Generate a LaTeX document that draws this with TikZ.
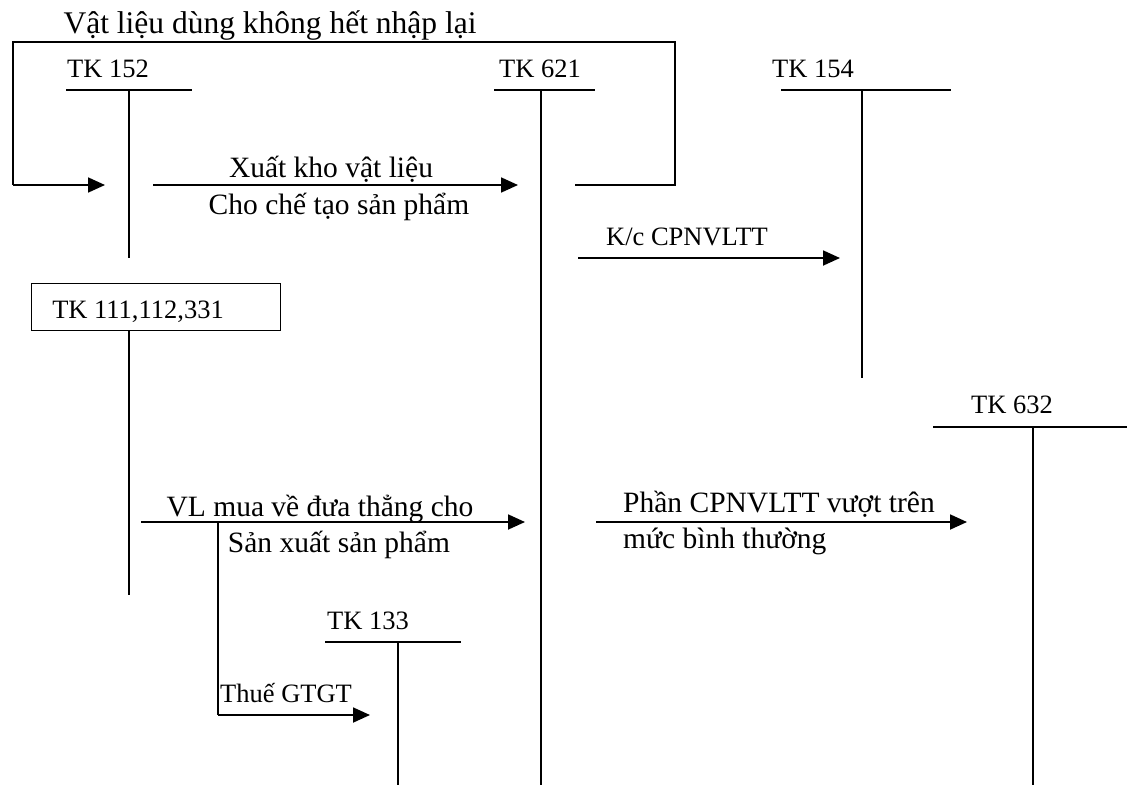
\documentclass[tikz,border=0pt]{standalone}
\usepackage{fontspec}
\setmainfont{Liberation Serif}
\usetikzlibrary{arrows.meta}
\begin{document}
\begin{tikzpicture}[x=1pt,y=-1pt,
  acct/.style={line width=1.3pt},
  flow/.style={line width=1.8pt,-{Triangle[length=17pt,width=15pt]}},
  plain/.style={line width=1.5pt},
  big/.style={font=\fontsize{31.5}{34}\selectfont,anchor=base,inner sep=0pt},
  mid/.style={font=\fontsize{29.5}{32}\selectfont,anchor=base,inner sep=0pt},
  small/.style={font=\fontsize{26.5}{29}\selectfont,anchor=base,inner sep=0pt}]
\useasboundingbox (0,0) rectangle (1127,785);
% account labels
\node[small] (l152) at (108,77) {TK 152};
\node[small] (l621) at (540,77) {TK 621};
\node[small] (l154) at (813,77) {TK 154};
\node[small] (l632) at (1012,413) {TK 632};
\node[small] (l133) at (368,629) {TK 133};
% T accounts
\coordinate (a1) at (66,90); \coordinate (a2) at (192,90);
\coordinate (a3) at (129,90); \coordinate (a4) at (129,258);
\draw[acct] (a1) -- (a2) (a3) -- (a4);
\coordinate (b1) at (494,90); \coordinate (b2) at (595,90);
\coordinate (b3) at (541,90); \coordinate (b4) at (541,785);
\draw[acct] (b1) -- (b2) (b3) -- (b4);
\coordinate (c1) at (781,90); \coordinate (c2) at (951,90);
\coordinate (c3) at (862,90); \coordinate (c4) at (862,378);
\draw[acct] (c1) -- (c2) (c3) -- (c4);
\coordinate (d1) at (933,427); \coordinate (d2) at (1127,427);
\coordinate (d3) at (1033,427); \coordinate (d4) at (1033,785);
\draw[acct] (d1) -- (d2) (d3) -- (d4);
\coordinate (e1) at (325,642); \coordinate (e2) at (461,642);
\coordinate (e3) at (398,642); \coordinate (e4) at (398,785);
\draw[acct] (e1) -- (e2) (e3) -- (e4);
% TK 111 box
\node[draw,line width=1.3pt,minimum width=249pt,minimum height=47pt,inner sep=0pt,anchor=north west] (box) at (31,283) {};
\node[small] (l111) at (138,318) {TK 111,112,331};
\coordinate (f1) at (129,330); \coordinate (f2) at (129,595);
\draw[acct] (f1) -- (f2);
% return bracket
\node[big] (ttl) at (270,33) {Vật liệu dùng không hết nhập lại};
\coordinate (r0) at (575,185); \coordinate (r1) at (675,185);
\coordinate (r2) at (675,42); \coordinate (r3) at (13,42);
\coordinate (r4) at (13,185); \coordinate (r5) at (105,185);
\draw[plain] (r0) -- (r1) -- (r2) -- (r3) -- (r4);
\draw[flow] (r4) -- (r5);
% xuat kho
\coordinate (x0) at (153,185); \coordinate (x1) at (518,185);
\draw[flow] (x0) -- (x1);
\node[mid] (t1) at (331,177) {Xuất kho vật liệu};
\node[mid] (t2) at (339,214) {Cho chế tạo sản phẩm};
% K/c
\coordinate (k0) at (578,258); \coordinate (k1) at (840,258);
\draw[flow] (k0) -- (k1);
\node[small] (t3) at (687,245) {K/c CPNVLTT};
% VL mua
\coordinate (v0) at (141,522); \coordinate (v1) at (525,522);
\draw[flow] (v0) -- (v1);
\node[mid] (t4) at (320,516) {VL mua về đưa thẳng cho};
\node[mid] (t5) at (339,552) {Sản xuất sản phẩm};
% Phan vuot
\coordinate (p0) at (596,522); \coordinate (p1) at (967,522);
\draw[flow] (p0) -- (p1);
\node[mid,anchor=base west] (t6) at (623,512) {Phần CPNVLTT vượt trên};
\node[mid,anchor=base west] (t7) at (623,548) {mức bình thường};
% thue
\coordinate (g0) at (218,522); \coordinate (g1) at (218,715); \coordinate (g2) at (370,715);
\draw[line width=1.5pt] (g0) -- (g1);
\draw[flow] (g1) -- (g2);
\node[small,anchor=base west] (t8) at (220,702) {Thuế GTGT};
\end{tikzpicture}
\end{document}
